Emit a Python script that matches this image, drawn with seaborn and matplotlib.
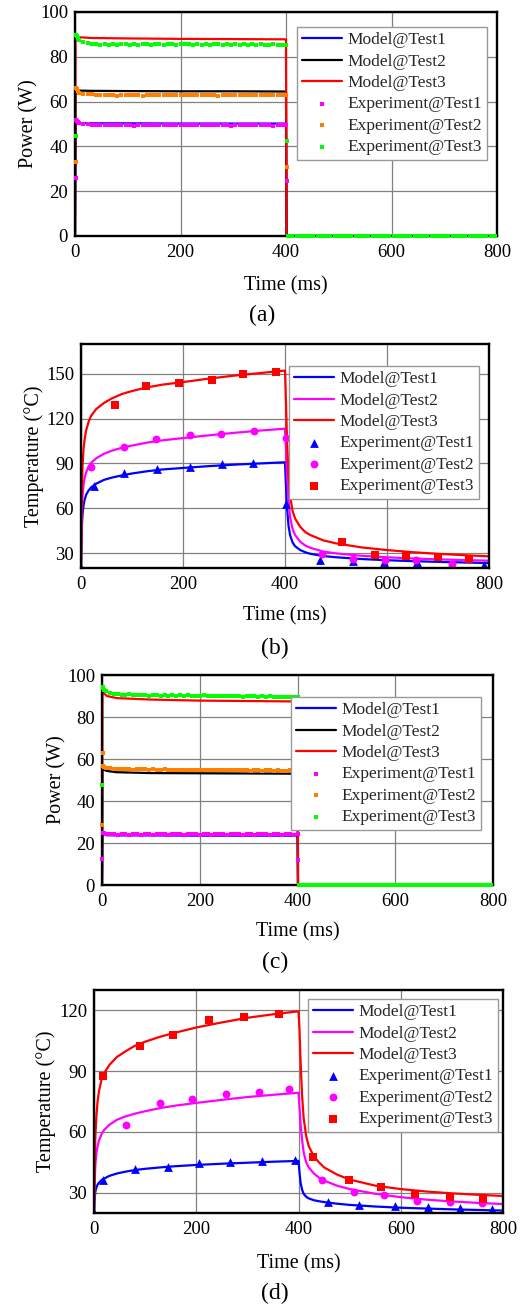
import numpy as np
import matplotlib
matplotlib.use("Agg")
import matplotlib.pyplot as plt
import seaborn as sns

# ---------------- data ----------------
# power model curves (panels a, c)
pm_time = [0, 1, 3, 10, 30, 100, 200, 300, 400, 401, 800]
pa_model1 = [0, 51.0, 50.6, 50.4, 50.3, 50.3, 50.2, 50.2, 50.2, 0, 0]
pa_model2 = [0, 65.5, 65.2, 64.9, 64.8, 64.7, 64.6, 64.6, 64.5, 0, 0]
pa_model3 = [0, 89.5, 89.0, 88.7, 88.4, 88.2, 88.0, 87.9, 87.8, 0, 0]
pc_model1 = [0, 24.5, 24.0, 23.7, 23.6, 23.6, 23.5, 23.5, 23.5, 0, 0]
pc_model2 = [0, 55.5, 55.0, 54.3, 53.7, 53.3, 53.2, 53.1, 53.0, 0, 0]
pc_model3 = [0, 92.5, 91.5, 90.0, 89.0, 88.3, 87.8, 87.6, 87.4, 0, 0]

# power experiment samples
pe_time_early = [1, 2, 3, 5]
pe_time_on = np.arange(8, 401, 8)
pe_time_drop = [401]
pe_time_off = np.arange(404, 801, 8)

pa_exp1 = [26.0, 51.8, 51.5, 51.0,
           50.4, 50.0, 49.8, 49.6, 49.5, 49.6, 49.4, 49.5, 49.5, 49.6,
           49.4, 49.5, 49.5, 49.3, 49.5, 49.6, 49.4, 49.5, 49.5, 49.4,
           49.6, 49.5, 49.4, 49.5, 49.5, 49.6, 49.4, 49.5, 49.5, 49.4,
           49.5, 49.6, 49.5, 49.4, 49.5, 49.5, 49.3, 49.5, 49.6, 49.5,
           49.4, 49.5, 49.5, 49.6, 49.4, 49.5, 49.3, 49.5, 49.5, 49.4,
           24.5]
pa_exp2 = [33.0, 66.2, 65.5, 64.8,
           64.0, 63.6, 63.3, 63.2, 63.0, 62.8, 63.1, 62.9, 63.0, 62.7,
           63.0, 63.1, 62.8, 63.0, 62.9, 62.7, 63.0, 63.1, 62.9, 63.0,
           62.8, 63.0, 63.1, 62.9, 62.8, 63.0, 62.9, 63.1, 63.0, 62.8,
           63.0, 62.9, 63.0, 62.7, 63.0, 63.1, 62.9, 63.0, 62.8, 63.0,
           62.9, 63.1, 63.0, 62.8, 63.0, 62.9, 62.8, 63.0, 62.9, 62.8,
           31.0]
pa_exp3 = [44.5, 89.8, 89.2, 88.3,
           87.3, 86.5, 86.0, 85.8, 85.6, 85.3, 85.5, 85.4, 85.6, 85.3,
           85.5, 85.7, 85.4, 85.5, 85.3, 85.6, 85.5, 85.4, 85.8, 85.5,
           85.4, 85.6, 85.5, 85.3, 85.6, 85.5, 85.7, 85.4, 85.5, 85.3,
           85.6, 85.4, 85.5, 85.5, 85.3, 85.6, 85.4, 85.5, 85.3, 85.5,
           85.4, 85.6, 85.3, 85.5, 85.4, 85.3, 85.5, 85.2, 85.4, 85.2,
           42.5]
pc_exp1 = [12.5, 25.0, 24.8, 24.6,
           24.4, 24.2, 24.1, 24.0, 24.2, 24.1, 24.0, 24.1, 24.2, 24.0,
           24.1, 24.3, 24.0, 24.1, 24.1, 24.2, 24.0, 24.1, 24.3, 24.1,
           24.0, 24.1, 24.2, 24.1, 24.0, 24.1, 24.2, 24.0, 24.1, 24.3,
           24.1, 24.0, 24.2, 24.1, 24.1, 24.0, 24.2, 24.1, 24.0, 24.1,
           24.3, 24.1, 24.0, 24.1, 24.2, 24.0, 24.1, 24.1, 24.0, 24.1,
           12.0]
pc_exp2 = [28.5, 63.0, 56.8, 56.2,
           55.8, 55.5, 55.3, 55.2, 55.4, 55.1, 55.3, 55.0, 55.2, 55.1,
           55.3, 55.0, 55.1, 54.9, 55.0, 55.2, 54.9, 55.0, 54.8, 55.0,
           54.9, 54.7, 54.9, 55.0, 54.8, 54.7, 54.9, 54.8, 54.6, 54.8,
           54.7, 54.9, 54.6, 54.7, 54.8, 54.6, 54.7, 54.5, 54.7, 54.6,
           54.5, 54.7, 54.6, 54.4, 54.6, 54.5, 54.4, 54.6, 54.5, 54.4,
           27.0]
pc_exp3 = [47.5, 94.2, 93.8, 93.0,
           92.3, 91.5, 91.1, 90.9, 90.7, 90.6, 90.8, 90.4, 90.5, 90.3,
           90.6, 90.2, 90.4, 90.3, 90.1, 90.5, 90.2, 90.3, 90.0, 90.4,
           90.1, 90.3, 89.9, 90.2, 90.0, 90.3, 89.9, 90.1, 90.2, 89.8,
           90.0, 90.2, 89.9, 89.8, 90.1, 89.7, 90.0, 89.8, 89.9, 89.7,
           89.9, 89.6, 89.8, 89.5, 89.7, 89.4, 89.6, 89.5, 89.3, 89.5,
           44.5]
pe_off_value = [0.0] * len(pe_time_off)

# temperature model curves (panels b, d)
tm_time = [0, 1, 2, 3, 5, 7, 10, 15, 20, 30, 45, 60, 80, 100, 130, 160, 200, 250, 300,
           350, 400, 402, 404, 407, 410, 415, 420, 430, 440, 450, 475, 500, 550, 600,
           650, 700, 750, 800]
tb_model1 = [20, 40, 50, 56, 62, 65.5, 69, 72, 74, 76.5, 79, 80.5, 82, 83.3, 84.8, 86, 87,
             88.2, 89.2, 90, 90.8, 75, 60, 48, 42, 37, 34.5, 32, 30.5, 29.5, 28, 27.2, 26,
             25.2, 24.6, 24.1, 23.7, 23.3]
tb_model2 = [20, 45, 60, 68, 76, 80, 84, 88, 90.5, 93.5, 96.5, 98.5, 100.5, 102, 104, 105.5,
             107, 108.8, 110.5, 112, 113.3, 100, 82, 65, 54, 46, 42, 37.5, 35, 33.5, 31,
             29.8, 28.2, 27.2, 26.4, 25.8, 25.3, 24.9]
tb_model3 = [20, 55, 75, 88, 100, 106, 112, 118, 122, 126.5, 130.5, 133.5, 136.5, 138.5,
             141, 142.8, 144.5, 146.8, 148.8, 150.5, 152.2, 130, 105, 82, 68, 58, 53, 47.5,
             44, 42, 38.5, 36.5, 33.8, 32, 30.6, 29.5, 28.6, 27.8]
td_model1 = [20, 26, 29, 31, 32.8, 34, 35, 36.3, 37, 38.3, 39.5, 40.3, 41.2, 41.8, 42.5, 43.1,
             43.7, 44.3, 44.8, 45.3, 45.7, 40, 35, 31.5, 29.5, 28, 27.2, 26.3, 25.8, 25.4,
             24.6, 24, 23.2, 22.6, 22.2, 21.8, 21.5, 21.2]
td_model2 = [20, 32, 40, 45, 50, 53, 56, 59, 61, 63.5, 66, 67.5, 69, 70.2, 71.8, 73, 74.3,
             75.8, 77.2, 78.3, 79.3, 72, 64, 56, 50, 45, 42.5, 39.5, 37.5, 36, 33.5, 31.8,
             29.5, 27.8, 26.6, 25.7, 25.0, 24.4]
td_model3 = [20, 40, 52, 60, 69, 75, 80.5, 86, 89, 93, 97, 99.5, 102.5, 104.5, 107, 109,
             111.5, 114, 116.3, 118, 119.5, 110, 95, 78, 67, 58, 53, 48, 45, 42.5, 39, 36.5,
             33.5, 31.8, 30.6, 29.7, 29.0, 28.4]

# temperature experiment points
tb_exp1_t = [0, 25, 85, 149, 214, 276, 338, 402, 468, 534, 594, 658, 726, 790]
tb_exp1_v = [20, 74.9, 83.8, 86, 87.8, 89.6, 90.4, 62.9, 25.6, 24.9, 24, 23.8, 22.2, 22.2]
tb_exp2_t = [20, 85, 147, 213, 274, 339, 401, 472, 534, 596, 656, 728]
tb_exp2_v = [87.8, 100.7, 106.2, 108.9, 110, 111.8, 107.3, 29.6, 26, 25.1, 25.1, 22.7]
tb_exp3_t = [66, 128, 193, 256, 318, 382, 511, 576, 637, 700, 761]
tb_exp3_v = [129.3, 141.6, 144, 146.2, 150, 151.3, 37.1, 28.4, 28.2, 27.1, 26]

td_exp1_t = [0, 18, 80, 144, 206, 266, 328, 393, 457, 519, 589, 653, 716, 778]
td_exp1_v = [20, 36.5, 41.5, 42.6, 44.7, 45, 45.5, 45.9, 25.4, 23.9, 23.5, 23, 22.6, 22.1]
td_exp2_t = [63, 129, 191, 258, 322, 382, 446, 508, 568, 632, 696, 759]
td_exp2_v = [63.5, 74.2, 76.1, 78.6, 79.6, 81.2, 36.5, 30.5, 28.7, 25.9, 25.4, 24.8]
td_exp3_t = [17, 89, 155, 224, 294, 361, 428, 498, 562, 628, 697, 761]
td_exp3_v = [87.6, 102.3, 107.7, 115, 116.7, 118, 47.7, 36.5, 32.9, 29.5, 28, 26.7]

labels_model = ["Model@Test1", "Model@Test2", "Model@Test3"]
labels_exp = ["Experiment@Test1", "Experiment@Test2", "Experiment@Test3"]
x_ticks = [0, 200, 400, 600, 800]

# ---------------- style ----------------
sns.set_theme(style="white")
plt.rcParams["font.family"] = ["Liberation Serif", "DejaVu Serif"]

W, H = 523, 1309
fig = plt.figure(figsize=(W / 100, H / 100), dpi=100)


def add_ax(l, t, r, b):
    return fig.add_axes([l / W, 1 - b / H, (r - l) / W, (b - t) / H])


def fx(px):
    return px / W


def fy(py):
    return 1 - py / H


def finish(ax, box, ylim, yticks, ylabel, xlab_top, ylab_right, leg_rt, cap_xy, cap):
    l, t, r, b = box
    ax.set_xlim(0, 800)
    ax.set_ylim(*ylim)
    ax.set_xticks(x_ticks)
    ax.set_yticks(yticks)
    ax.grid(True, color="#808080", linewidth=0.9)
    ax.set_axisbelow(True)
    for s in ax.spines.values():
        s.set_visible(True)
        s.set_color("black")
        s.set_linewidth(1.7)
        s.set_zorder(5)
    ax.tick_params(length=0, labelsize=13.5, colors="black")
    ax.tick_params(axis="x", pad=6)
    ax.tick_params(axis="y", pad=5)
    ax.set_xlabel("Time (ms)", fontsize=14.5, color="black")
    ax.set_ylabel(ylabel, fontsize=14.5, color="black")
    ax.xaxis.set_label_coords(fx((l + r) / 2), fy(xlab_top), transform=fig.transFigure)
    ax.yaxis.set_label_coords(fx(ylab_right), fy((t + b) / 2), transform=fig.transFigure)
    h, lab = ax.get_legend_handles_labels()
    leg = ax.legend(h, lab, loc="upper right",
                    bbox_to_anchor=(fx(leg_rt[0]), fy(leg_rt[1])),
                    bbox_transform=fig.transFigure, borderaxespad=0,
                    fontsize=12.5, frameon=True, fancybox=False, framealpha=1,
                    edgecolor="#999999", handlelength=2.3, handletextpad=0.3,
                    labelspacing=0.3, borderpad=0.3, scatterpoints=1)
    leg.get_frame().set_linewidth(1.0)
    leg.set_zorder(10)
    fig.text(fx(cap_xy[0]), fy(cap_xy[1]), cap, ha="center", va="center",
             fontsize=17, color="black")


def power_panel(box, models, exps, model_colors, exp_colors):
    ax = add_ax(*box)
    for v, c, lab in zip(models, model_colors, labels_model):
        sns.lineplot(x=pm_time, y=v, color=c, linewidth=1.6, label=lab,
                     sort=False, estimator=None, ax=ax)
    t_all = np.concatenate([pe_time_early, pe_time_on, pe_time_drop, pe_time_off])
    for v, c, lab in zip(exps, exp_colors, labels_exp):
        y_all = np.concatenate([v, pe_off_value])
        sns.scatterplot(x=t_all, y=y_all, marker="s", s=12, color=c, linewidth=0,
                        label=lab, ax=ax, zorder=6, clip_on=False)
    return ax


def temp_panel(box, models, exps):
    ax = add_ax(*box)
    cols = ["#0000ff", "#ff00ff", "#ff0000"]
    for v, c, lab in zip(models, cols, labels_model):
        sns.lineplot(x=tm_time, y=v, color=c, linewidth=1.6, label=lab,
                     sort=False, estimator=None, ax=ax)
    marks = [("^", 40), ("o", 32), ("s", 28)]
    for (tt, vv), c, (m, s), lab in zip(exps, cols, marks, labels_exp):
        sns.scatterplot(x=tt, y=vv, marker=m, s=s, color=c, linewidth=0,
                        label=lab, ax=ax, zorder=3)
    return ax


# panel (a)
box_a = (75, 12, 497, 236)
ax_a = power_panel(box_a, [pa_model1, pa_model2, pa_model3],
                   [pa_exp1, pa_exp2, pa_exp3],
                   ["#0000ff", "#000000", "#ff0000"],
                   ["#ff00ff", "#ff8000", "#00ff00"])
finish(ax_a, box_a, (0, 100), [0, 20, 40, 60, 80, 100], "Power (W)",
       276, 38, (487, 27), (262, 315), "(a)")

# panel (b)
box_b = (81, 344, 489, 568)
ax_b = temp_panel(box_b, [tb_model1, tb_model2, tb_model3],
                  [(tb_exp1_t, tb_exp1_v), (tb_exp2_t, tb_exp2_v), (tb_exp3_t, tb_exp3_v)])
finish(ax_b, box_b, (20, 170), [30, 60, 90, 120, 150], "Temperature (°C)",
       606, 44, (479, 366), (275, 648), "(b)")

# panel (c)
box_c = (102, 675, 493, 885)
ax_c = power_panel(box_c, [pc_model1, pc_model2, pc_model3],
                   [pc_exp1, pc_exp2, pc_exp3],
                   ["#0000ff", "#000000", "#ff0000"],
                   ["#ff00ff", "#ff8000", "#00ff00"])
finish(ax_c, box_c, (0, 100), [0, 20, 40, 60, 80, 100], "Power (W)",
       922, 66, (481, 697), (275, 962), "(c)")

# panel (d)
box_d = (94, 990, 503, 1213)
ax_d = temp_panel(box_d, [td_model1, td_model2, td_model3],
                  [(td_exp1_t, td_exp1_v), (td_exp2_t, td_exp2_v), (td_exp3_t, td_exp3_v)])
finish(ax_d, box_d, (20, 130), [30, 60, 90, 120], "Temperature (°C)",
       1254, 56, (498, 999), (275, 1293), "(d)")

fig.savefig("out.png", dpi=100, facecolor="white")
